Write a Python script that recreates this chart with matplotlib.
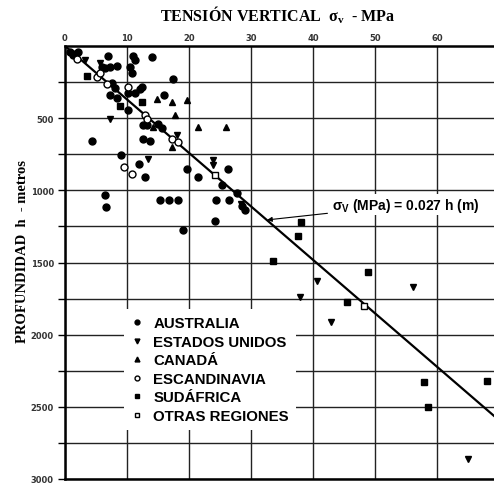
import numpy as np
import matplotlib
matplotlib.use('Agg')
import matplotlib.pyplot as plt
from matplotlib.lines import Line2D

# Valores: tension vertical (MPa) y profundidad (m)
aus_s = [0.8, 1.3, 1.6, 2.1, 6.9, 11.0, 11.3, 14.0, 10.5, 10.8, 6.0, 7.3, 8.4, 6.5,
         17.4, 7.6, 8.1, 7.3, 8.4, 10.2, 11.3, 12.1, 10.2, 16.0, 12.4, 12.6, 13.2,
         15.0, 15.6, 12.6, 13.7, 19.7, 26.3, 4.4, 9.0, 11.9, 12.9, 6.5, 6.6, 21.5,
         25.3, 27.7, 28.5, 29.0, 15.3, 16.8, 18.2, 24.4, 26.5, 24.2, 19.0]
aus_h = [42, 62, 56, 42, 69, 69, 97, 76, 146, 188, 146, 146, 139, 153,
         229, 257, 292, 340, 361, 326, 326, 299, 444, 340, 285, 549, 549,
         542, 569, 646, 660, 854, 854, 660, 757, 819, 910, 1035, 1118, 910,
         965, 1021, 1111, 1139, 1069, 1069, 1069, 1069, 1069, 1215, 1278]

usa_s = [5.6, 3.2, 7.3, 18.1, 13.4, 23.9, 23.9, 40.6, 56.1, 37.9, 42.9, 65.0, 28.4]
usa_h = [118, 97, 507, 618, 785, 792, 826, 1625, 1667, 1736, 1910, 2861, 1097]

can_s = [14.8, 17.3, 19.7, 17.7, 14.2, 21.5, 26.0, 17.3]
can_h = [368, 389, 375, 479, 563, 563, 563, 701]

esc_s = [1.9, 5.2, 5.6, 6.8, 10.2, 12.9, 13.2, 17.3, 18.2, 9.5, 10.8]
esc_h = [90, 215, 188, 264, 285, 479, 507, 646, 667, 840, 889]

saf_s = [3.5, 12.4, 8.9, 38.1, 37.6, 33.5, 48.9, 45.5, 57.9, 68.1, 58.5]
saf_h = [208, 389, 417, 1222, 1313, 1493, 1563, 1771, 2326, 2319, 2500]

otr_s = [24.2, 48.2]
otr_h = [896, 1799]

coef = 0.027
depth_line = [0, 3000]

fig = plt.figure(figsize=(4.94, 4.85), dpi=100)
ax = fig.add_axes([65 / 494, 5 / 485, 434 / 494, 433 / 485])

ax.set_xlim(0, 70)
ax.set_ylim(3000, 0)
ax.set_xticks(np.arange(0, 71, 10))
ax.set_yticks(np.arange(500, 3001, 500))
ax.set_yticks(np.arange(250, 3000, 500), minor=True)
ax.grid(True, which='both', color='#222222', linewidth=1.0)
ax.set_axisbelow(True)

ax.xaxis.tick_top()
ax.tick_params(axis='x', length=0, pad=3, labelsize=6, labelcolor='#333333')
ax.tick_params(axis='y', which='both', direction='out', length=5, width=1,
               pad=3, labelsize=6, labelcolor='#333333')
for lab in ax.get_xticklabels() + ax.get_yticklabels():
    lab.set_fontweight('bold')
for side in ['left', 'top', 'bottom']:
    ax.spines[side].set_linewidth(1.8)

ax.plot([coef * d for d in depth_line], depth_line, color='black', lw=1.6, zorder=3)

ax.plot(aus_s, aus_h, 'o', color='black', ms=5, ls='none', zorder=4)
ax.plot(usa_s, usa_h, 'v', color='black', ms=4, ls='none', zorder=4)
ax.plot(can_s, can_h, '^', color='black', ms=4.5, ls='none', zorder=4)
ax.plot(esc_s, esc_h, 'o', mfc='white', mec='black', mew=1, ms=5, ls='none', zorder=4)
ax.plot(saf_s, saf_h, 's', color='black', ms=4.5, ls='none', zorder=4)
ax.plot(otr_s, otr_h, 's', mfc='white', mec='black', mew=1, ms=4.5, ls='none', zorder=4)

# anotacion de la recta
ax.annotate(r'$\mathregular{\sigma_V}$ (MPa) = 0.027 h (m)', xy=(32.6, 1205),
            xytext=(43.0, 1100), fontsize=10, fontweight='bold',
            fontfamily='Liberation Sans', va='center', ha='left',
            arrowprops=dict(arrowstyle='-|>', color='black', lw=0.8,
                            mutation_scale=7, shrinkA=2, shrinkB=0),
            bbox=dict(facecolor='white', edgecolor='none', pad=1))

handles = [
    Line2D([], [], marker='o', color='black', ls='none', ms=3.5),
    Line2D([], [], marker='v', color='black', ls='none', ms=3.5),
    Line2D([], [], marker='^', color='black', ls='none', ms=3.5),
    Line2D([], [], marker='o', mfc='white', mec='black', ls='none', ms=3.5),
    Line2D([], [], marker='s', color='black', ls='none', ms=3.2),
    Line2D([], [], marker='s', mfc='white', mec='black', ls='none', ms=3.2),
]
labels = ['AUSTRALIA', 'ESTADOS UNIDOS', 'CANADÁ', 'ESCANDINAVIA', 'SUDÁFRICA',
          'OTRAS REGIONES']
leg = ax.legend(handles, labels, loc='upper left', bbox_to_anchor=(0.135, 0.393),
                frameon=True, facecolor='white', edgecolor='none', framealpha=1,
                fancybox=False, handlelength=0.8, handletextpad=0.67,
                labelspacing=0.3, borderpad=0.5, borderaxespad=0,
                prop={'family': 'Liberation Sans', 'weight': 'bold', 'size': 10.8})
leg.set_zorder(5)

fig.text(0.563, 0.968, r'TENSIÓN VERTICAL  $\mathregular{\sigma_v}$  - MPa', ha='center',
         va='center', fontsize=11.5, fontweight='bold', fontfamily='Liberation Serif')
fig.text(0.045, 0.482, 'PROFUNDIDAD  h  - metros', rotation=90, ha='center',
         va='center', fontsize=10.5, fontweight='bold', fontfamily='Liberation Serif')

fig.savefig('out.png', dpi=100)
